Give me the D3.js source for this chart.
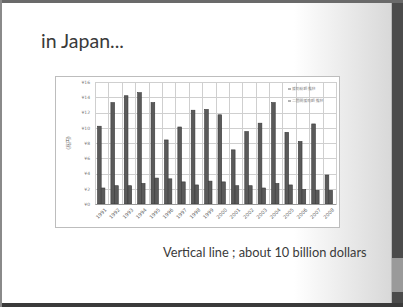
<!DOCTYPE html>
<html>
<head>
<meta charset="utf-8">
<script src="https://cdn.jsdelivr.net/npm/d3@7"></script>
<style>
  body { margin: 0; background: #fff; }
  svg { display: block; }
</style>
</head>
<body>
<svg width="403" height="307"></svg>
<script>
const years = ['1991','1992','1993','1994','1995','1996','1997','1998','1999','2000',
               '2001','2002','2003','2004','2005','2006','2007','2008'];
const seriesNames = ['援助総額 推移', '二国間援助額 推移'];
const totalAid = [10.2, 13.3, 14.2, 14.6, 13.3, 8.4, 10.1, 12.3, 12.4, 11.7,
                  7.1, 9.5, 10.6, 13.3, 9.4, 8.2, 10.5, 3.8];
const bilateralAid = [2.1, 2.4, 2.4, 2.7, 3.4, 3.3, 2.9, 2.5, 3.0, 2.9,
                      2.4, 2.4, 2.1, 2.7, 2.5, 1.9, 1.8, 1.8];
const yTicks = [0, 2, 4, 6, 8, 10, 12, 14, 16];

const svg = d3.select('svg');
const width = +svg.attr('width');
const height = +svg.attr('height');

// slide background with soft grey glow on the right
const defs = svg.append('defs');
const grad = defs.append('linearGradient').attr('id', 'slideGrad')
    .attr('x1', 0).attr('x2', 1).attr('y1', 0).attr('y2', 0);
grad.append('stop').attr('offset', '0%').attr('stop-color', '#ffffff');
grad.append('stop').attr('offset', '75%').attr('stop-color', '#ffffff');
grad.append('stop').attr('offset', '100%').attr('stop-color', '#d8d8d8');
svg.append('rect').attr('x', 0).attr('y', 0).attr('width', 392).attr('height', height)
    .attr('fill', 'url(#slideGrad)');

// right dark panel
svg.append('rect').attr('x', 392).attr('y', 0).attr('width', 11).attr('height', height).attr('fill', '#4b4b4b');
svg.append('rect').attr('x', 392).attr('y', 258).attr('width', 11).attr('height', 34).attr('fill', '#9a9a9a');
svg.append('line').attr('x1', 391.5).attr('x2', 391.5).attr('y1', 0).attr('y2', height)
    .attr('stroke', '#b8b8b8');
// frame lines
svg.append('rect').attr('x', 0).attr('y', 0).attr('width', width).attr('height', 3).attr('fill', '#6a6a6a');
svg.append('rect').attr('x', 0).attr('y', 303).attr('width', width).attr('height', 4).attr('fill', '#3a3a3a');
svg.append('rect').attr('x', 0).attr('y', 0).attr('width', 2).attr('height', height).attr('fill', '#8a8a8a');

// title
svg.append('text').attr('x', 41).attr('y', 48)
    .attr('font-family', 'Lato, "Open Sans", sans-serif').attr('font-size', 19.5)
    .attr('fill', '#3a3a3a').text('in Japan...');

// chart box
svg.append('rect').attr('x', 55.5).attr('y', 76.5).attr('width', 284).attr('height', 151)
    .attr('fill', '#fff').attr('stroke', '#bdbdbd');

const margin = {left: 95, top: 82, right: 336, bottom: 204};

const xScale = d3.scaleBand().domain(years).range([margin.left, margin.right]);
const xInner = d3.scaleBand().domain([0, 1]).range([2.5, xScale.bandwidth() - 3.5]).padding(0);
const yScale = d3.scaleLinear().domain([0, 16]).range([margin.bottom, margin.top]);

const g = svg.append('g');

// horizontal grid
g.selectAll('.hgrid').data(yTicks).enter().append('line')
    .attr('x1', margin.left).attr('x2', margin.right)
    .attr('y1', d => Math.round(yScale(d)) + 0.5).attr('y2', d => Math.round(yScale(d)) + 0.5)
    .attr('stroke', '#cfcfcf');
// vertical grid
g.selectAll('.vgrid').data(years.concat(['end'])).enter().append('line')
    .attr('x1', (d, i) => Math.round(margin.left + i * xScale.bandwidth()) + 0.5)
    .attr('x2', (d, i) => Math.round(margin.left + i * xScale.bandwidth()) + 0.5)
    .attr('y1', margin.top).attr('y2', margin.bottom)
    .attr('stroke', '#cfcfcf');

// bars
const series = [totalAid, bilateralAid];
series.forEach((vals, s) => {
    g.selectAll('.bar' + s).data(vals).enter().append('rect')
        .attr('x', (d, i) => xScale(years[i]) + xInner(s))
        .attr('y', d => yScale(d))
        .attr('width', xInner.bandwidth())
        .attr('height', d => yScale(0) - yScale(d))
        .attr('fill', '#5a5a5a')
        .attr('stroke', '#3a3a3a').attr('stroke-width', 0.6);
});

// y axis labels
const yAxis = d3.axisLeft(yScale).tickValues(yTicks).tickSize(0).tickPadding(5)
    .tickFormat(d => '¥' + d);
const ya = g.append('g').attr('transform', `translate(${margin.left},0)`).call(yAxis);
ya.select('.domain').remove();
ya.selectAll('text').attr('font-size', 4.5).attr('fill', '#777').attr('font-family', 'DejaVu Sans, sans-serif');

// x axis labels (slanted)
const xAxis = d3.axisBottom(xScale).tickSize(0).tickPadding(0);
const xa = g.append('g').attr('transform', `translate(0,${margin.bottom})`).call(xAxis);
xa.select('.domain').attr('stroke', '#999');
xa.selectAll('text')
    .attr('font-size', 5).attr('fill', '#666').attr('font-family', 'DejaVu Sans, sans-serif')
    .attr('text-anchor', 'end').attr('y', 0).attr('dy', '0.35em')
    .attr('transform', 'translate(4,5) rotate(-45)');

// y title
svg.append('text')
    .attr('transform', 'translate(70,143) rotate(-90)')
    .attr('text-anchor', 'middle')
    .attr('font-size', 5).attr('fill', '#555')
    .attr('font-family', '"Noto Sans CJK JP", sans-serif')
    .text('(兆円)');

// legend
const legend = svg.append('g');
seriesNames.forEach((name, i) => {
    const ly = 89 + i * 12;
    legend.append('line').attr('x1', 288).attr('x2', 291).attr('y1', ly).attr('y2', ly)
        .attr('stroke', '#666').attr('stroke-width', 1);
    legend.append('text').attr('x', 292).attr('y', ly + 1.3)
        .attr('font-size', 3.8).attr('fill', '#888')
        .attr('font-family', '"Noto Sans CJK JP", sans-serif')
        .text(name);
});

// caption
svg.append('text').attr('x', 163).attr('y', 257)
    .attr('font-family', 'Lato, "Open Sans", sans-serif').attr('font-size', 12.8)
    .attr('fill', '#3a3a3a').text('Vertical line ; about 10 billion dollars');
</script>
</body>
</html>
